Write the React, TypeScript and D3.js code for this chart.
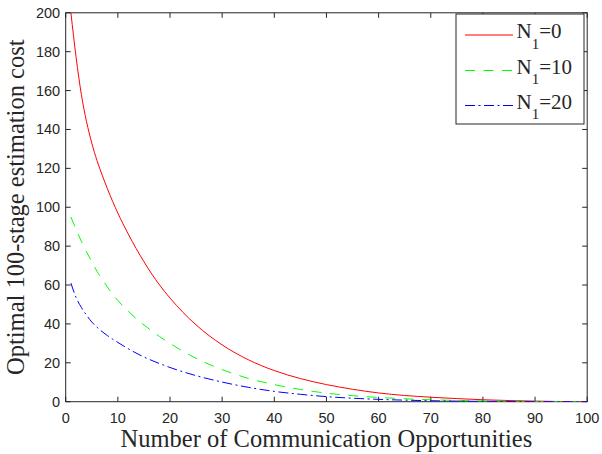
import { useEffect, useRef } from "react";
import * as d3 from "d3";

// x positions (number of communication opportunities)
const xs = [1, 2, 3, 4, 5, 6, 7, 8, 9, 10, 12, 15, 18, 20, 25, 30, 35, 40, 45, 50, 55, 60, 65, 70, 75, 80, 85, 90, 95, 100];

const costN0 = [200, 177, 158, 144, 133, 124, 116.5, 109.5, 103, 97, 86.2, 72, 60, 53.3, 39.5, 29.2, 21.6, 16, 11.9, 8.8, 6.4, 4.5, 3.2, 2.3, 1.6, 1.0, 0.6, 0.3, 0.1, 0];
const costN10 = [95, 88.5, 82.5, 77, 72, 67, 63, 59, 55.3, 52, 46.5, 39.5, 33.5, 30, 22.3, 16.5, 12, 8.8, 6.3, 4.4, 3.1, 2.2, 1.5, 1.0, 0.65, 0.4, 0.25, 0.12, 0.05, 0];
const costN20 = [61, 53.5, 48.5, 44.5, 41, 38.3, 36, 34, 32.2, 30.5, 27.2, 23, 19.6, 17.6, 13.4, 10.1, 7.4, 5.3, 3.8, 2.6, 1.8, 1.2, 0.8, 0.5, 0.3, 0.18, 0.1, 0.05, 0.02, 0];

const seriesLabels = ["0", "10", "20"];
const xTicks = [0, 10, 20, 30, 40, 50, 60, 70, 80, 90, 100];
const yTicks = [0, 20, 40, 60, 80, 100, 120, 140, 160, 180, 200];

const W = 602;
const H = 454;

export default function App() {
  const svgRef = useRef<SVGSVGElement>(null);

  useEffect(() => {
    if (!svgRef.current) return;
    const svg = d3.select(svgRef.current);
    svg.selectAll("*").remove();

    const left = 65.7, right = 587.2, top = 12.8, bottom = 401.7;
    const axisColor = "#262626";

    const x = d3.scaleLinear().domain([0, 100]).range([left, right]);
    const y = d3.scaleLinear().domain([0, 200]).range([bottom, top]);

    svg.append("rect").attr("width", W).attr("height", H).attr("fill", "#fff");

    svg.append("defs")
      .append("clipPath")
      .attr("id", "plot-clip")
      .append("rect")
      .attr("x", left)
      .attr("y", top)
      .attr("width", right - left)
      .attr("height", bottom - top);

    // box
    svg.append("rect")
      .attr("x", left)
      .attr("y", top)
      .attr("width", right - left)
      .attr("height", bottom - top)
      .attr("fill", "none")
      .attr("stroke", axisColor)
      .attr("stroke-width", 1);

    const tickLen = 5;
    const tickG = svg.append("g").attr("stroke", axisColor).attr("stroke-width", 1);
    xTicks.forEach((t) => {
      tickG.append("line").attr("x1", x(t)).attr("x2", x(t)).attr("y1", bottom).attr("y2", bottom - tickLen);
      tickG.append("line").attr("x1", x(t)).attr("x2", x(t)).attr("y1", top).attr("y2", top + tickLen);
    });
    yTicks.forEach((t) => {
      tickG.append("line").attr("x1", left).attr("x2", left + tickLen).attr("y1", y(t)).attr("y2", y(t));
      tickG.append("line").attr("x1", right).attr("x2", right - tickLen).attr("y1", y(t)).attr("y2", y(t));
    });

    const tickFont = "'Liberation Sans', Arial, sans-serif";
    svg.append("g")
      .selectAll("text")
      .data(xTicks)
      .join("text")
      .attr("x", (d) => x(d))
      .attr("y", 423)
      .attr("text-anchor", "middle")
      .attr("font-family", tickFont)
      .attr("font-size", 14.5)
      .attr("fill", axisColor)
      .text((d) => d);

    svg.append("g")
      .selectAll("text")
      .data(yTicks)
      .join("text")
      .attr("x", left - 5.5)
      .attr("y", (d) => y(d) + 5)
      .attr("text-anchor", "end")
      .attr("font-family", tickFont)
      .attr("font-size", 14.5)
      .attr("fill", axisColor)
      .text((d) => d);

    const serif = "'Liberation Serif', 'Times New Roman', serif";
    svg.append("text")
      .attr("x", (left + right) / 2)
      .attr("y", 446.5)
      .attr("text-anchor", "middle")
      .attr("font-family", serif)
      .attr("font-size", 24.5)
      .attr("fill", axisColor)
      .text("Number of Communication Opportunities");

    svg.append("text")
      .attr("transform", `translate(24,${(top + bottom) / 2}) rotate(-90)`)
      .attr("text-anchor", "middle")
      .attr("font-family", serif)
      .attr("font-size", 24.5)
      .attr("fill", axisColor)
      .text("Optimal 100-stage estimation cost");

    const series = [
      { values: costN0, color: "#ff0000", dash: null as string | null },
      { values: costN10, color: "#00ff00", dash: "10,8.5" },
      { values: costN20, color: "#0000ff", dash: "10,3.5,2,3.5" },
    ];

    const line = d3
      .line<number>()
      .x((_, i) => x(xs[i]))
      .y((d) => y(d))
      .curve(d3.curveMonotoneX);

    const plot = svg.append("g").attr("clip-path", "url(#plot-clip)");
    series.forEach((s) => {
      plot.append("path")
        .datum(s.values)
        .attr("fill", "none")
        .attr("stroke", s.color)
        .attr("stroke-width", 1)
        .attr("stroke-dasharray", s.dash)
        .attr("d", line);
    });

    // Legend
    const lg = svg.append("g");
    lg.append("rect")
      .attr("x", 456)
      .attr("y", 14)
      .attr("width", 128)
      .attr("height", 110)
      .attr("fill", "#fff")
      .attr("stroke", axisColor)
      .attr("stroke-width", 1);

    const rowY = [35, 70.5, 105.5];
    series.forEach((s, i) => {
      const ly = rowY[i];
      lg.append("line")
        .attr("x1", 465)
        .attr("x2", 513)
        .attr("y1", ly)
        .attr("y2", ly)
        .attr("stroke", s.color)
        .attr("stroke-width", 1)
        .attr("stroke-dasharray", s.dash);
      const t = lg.append("text")
        .attr("x", 516.5)
        .attr("y", ly + 3)
        .attr("font-family", serif)
        .attr("font-size", 21)
        .attr("fill", axisColor);
      t.append("tspan").text("N");
      t.append("tspan").attr("dy", 10.5).attr("font-size", 15).text("1");
      t.append("tspan").attr("dy", -10.5).text("=" + seriesLabels[i]);
    });
  }, []);

  return (
    <svg
      ref={svgRef}
      width={W}
      height={H}
      style={{ position: "absolute", left: 0, top: 0, display: "block" }}
    />
  );
}
